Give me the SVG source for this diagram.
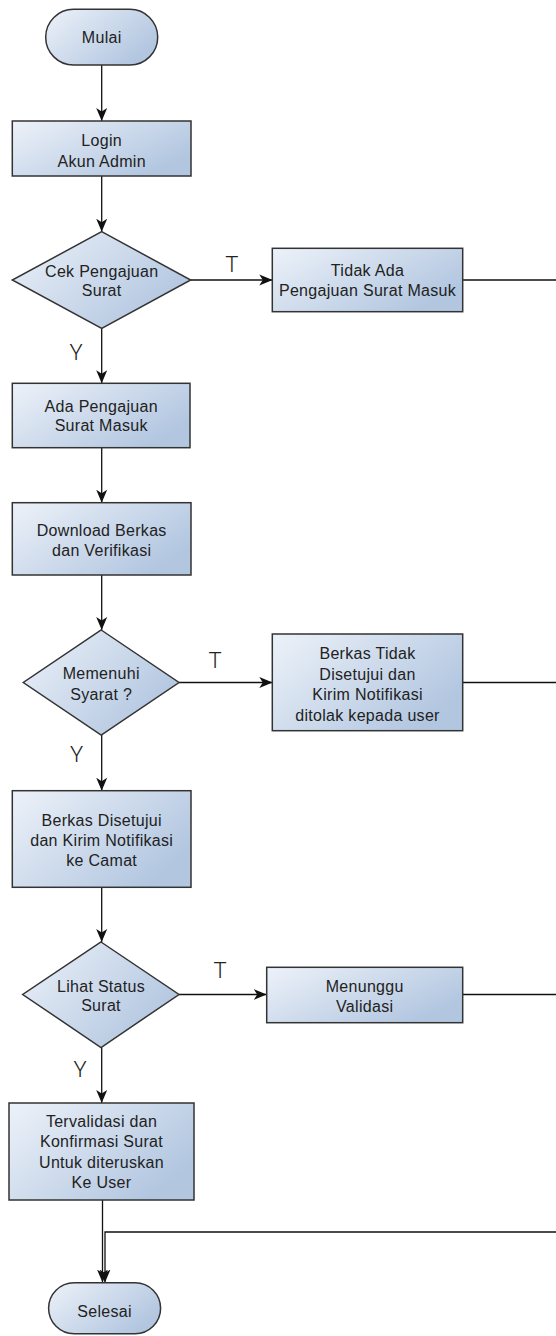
<svg xmlns="http://www.w3.org/2000/svg" width="556" height="1336" viewBox="0 0 556 1336">
  <defs>
    <linearGradient id="nodeFill" x1="0" y1="0" x2="1" y2="0.6">
      <stop offset="0" stop-color="#edf2f9"/>
      <stop offset="1" stop-color="#b2c6e0"/>
    </linearGradient>
    <marker id="arrow" markerUnits="userSpaceOnUse" markerWidth="13" markerHeight="12" viewBox="0 0 13 12" refX="13" refY="6" orient="auto">
      <path d="M0,0.5 L13,6 L0,11.5 L3.5,6 z" fill="#111"/>
    </marker>
  </defs>
  <style>
    .shape { fill: url(#nodeFill); stroke: #333; stroke-width: 1.5; }
    .label { font-family: "Liberation Sans", Arial, sans-serif; font-size: 16px; letter-spacing: 0.3px; fill: #222; text-anchor: middle; }
    .branch { font-family: Roboto, "Liberation Sans", Arial, sans-serif; font-weight: 300; font-size: 22px; fill: #222; text-anchor: middle; }
    .edge { fill: none; stroke: #111; stroke-width: 1.3; }
    .edge-arrow { fill: none; stroke: #111; stroke-width: 1.3; marker-end: url(#arrow); }
  </style>

  <!-- connectors -->
  <g id="connectors">
    <line class="edge-arrow" x1="101.7" y1="65" x2="101.7" y2="121"/>
    <line class="edge-arrow" x1="101.7" y1="176" x2="101.7" y2="231.7"/>
    <line class="edge-arrow" x1="190.7" y1="280" x2="272.3" y2="280"/>
    <line class="edge" x1="462.7" y1="280" x2="556" y2="280"/>
    <line class="edge-arrow" x1="101.7" y1="328.3" x2="101.7" y2="383.3"/>
    <line class="edge-arrow" x1="101.7" y1="447.7" x2="101.7" y2="502.7"/>
    <line class="edge-arrow" x1="101.7" y1="575" x2="101.7" y2="630"/>
    <line class="edge-arrow" x1="179" y1="682.5" x2="272.3" y2="682.5"/>
    <line class="edge" x1="462.7" y1="682.5" x2="556" y2="682.5"/>
    <line class="edge-arrow" x1="101.7" y1="735" x2="101.7" y2="790.7"/>
    <line class="edge-arrow" x1="101.7" y1="887.3" x2="101.7" y2="942"/>
    <line class="edge-arrow" x1="179" y1="994.5" x2="266.7" y2="994.5"/>
    <line class="edge" x1="462.7" y1="994.5" x2="556" y2="994.5"/>
    <line class="edge-arrow" x1="101.7" y1="1047.5" x2="101.7" y2="1103"/>
    <line class="edge-arrow" x1="102.5" y1="1200" x2="102.5" y2="1282.5" stroke="#555"/>
    <path class="edge-arrow" d="M556,1232 L105,1232 L105,1282.5"/>
    <!-- branch labels -->
    <text class="branch" x="231.7" y="272">T</text>
    <text class="branch" x="76" y="360">Y</text>
    <text class="branch" x="215" y="668">T</text>
    <text class="branch" x="76.7" y="762">Y</text>
    <text class="branch" x="220" y="978">T</text>
    <text class="branch" x="80" y="1077">Y</text>
  </g>

  <g id="mulai">
    <rect class="shape" x="45.7" y="9.3" width="112" height="55.7" rx="27.8" ry="27.8"/>
    <text class="label" x="101.7" y="43">Mulai</text>
  </g>

  <g id="login">
    <rect class="shape" x="12.3" y="121" width="178.7" height="55"/>
    <text class="label" x="101.7" y="145.5">Login<tspan x="101.7" dy="21">Akun Admin</tspan></text>
  </g>

  <g id="cek-pengajuan">
    <polygon class="shape" points="101.7,231.7 190.7,280 101.7,328.3 12.3,280"/>
    <text class="label" x="101.7" y="277">Cek Pengajuan<tspan x="101.7" dy="19">Surat</tspan></text>
  </g>

  <g id="tidak-ada">
    <rect class="shape" x="272.3" y="248.3" width="190.4" height="63.4"/>
    <text class="label" x="367.5" y="276">Tidak Ada<tspan x="367.5" dy="20">Pengajuan Surat Masuk</tspan></text>
  </g>

  <g id="ada-pengajuan">
    <rect class="shape" x="12.3" y="383.3" width="177.7" height="64.4"/>
    <text class="label" x="101.2" y="412">Ada Pengajuan<tspan x="101.2" dy="19">Surat Masuk</tspan></text>
  </g>

  <g id="download">
    <rect class="shape" x="12.3" y="502.7" width="178.7" height="72.3"/>
    <text class="label" x="101.7" y="535.5">Download Berkas<tspan x="101.7" dy="20.5">dan Verifikasi</tspan></text>
  </g>

  <g id="memenuhi-syarat">
    <polygon class="shape" points="101.2,630 179,682.5 101.2,735 23.3,682.5"/>
    <text class="label" x="101.2" y="679">Memenuhi<tspan x="101.2" dy="20.5">Syarat ?</tspan></text>
  </g>

  <g id="berkas-ditolak">
    <rect class="shape" x="272.3" y="634" width="190.4" height="96.7"/>
    <text class="label" x="367.5" y="659">Berkas Tidak<tspan x="367.5" dy="20.7">Disetujui dan</tspan><tspan x="367.5" dy="20.7">Kirim Notifikasi</tspan><tspan x="367.5" dy="20.7">ditolak kepada user</tspan></text>
  </g>

  <g id="berkas-disetujui">
    <rect class="shape" x="12.3" y="790.7" width="178.7" height="96.6"/>
    <text class="label" x="101.7" y="825.5">Berkas Disetujui<tspan x="101.7" dy="20">dan Kirim Notifikasi</tspan><tspan x="101.7" dy="20">ke Camat</tspan></text>
  </g>

  <g id="lihat-status">
    <polygon class="shape" points="101,942 179,994.5 101,1047.5 22.7,994.5"/>
    <text class="label" x="101" y="991.5">Lihat Status<tspan x="101" dy="19">Surat</tspan></text>
  </g>

  <g id="menunggu">
    <rect class="shape" x="266.7" y="967.3" width="196" height="55.4"/>
    <text class="label" x="364.7" y="992">Menunggu<tspan x="364.7" dy="19.5">Validasi</tspan></text>
  </g>

  <g id="tervalidasi">
    <rect class="shape" x="9" y="1103" width="185" height="97"/>
    <text class="label" x="101.5" y="1127">Tervalidasi dan<tspan x="101.5" dy="20.3">Konfirmasi Surat</tspan><tspan x="101.5" dy="20.3">Untuk diteruskan</tspan><tspan x="101.5" dy="20.3">Ke User</tspan></text>
  </g>

  <g id="selesai">
    <rect class="shape" x="48.6" y="1282.7" width="112" height="51" rx="25.5" ry="25.5"/>
    <text class="label" x="104.6" y="1317">Selesai</text>
  </g>
</svg>
